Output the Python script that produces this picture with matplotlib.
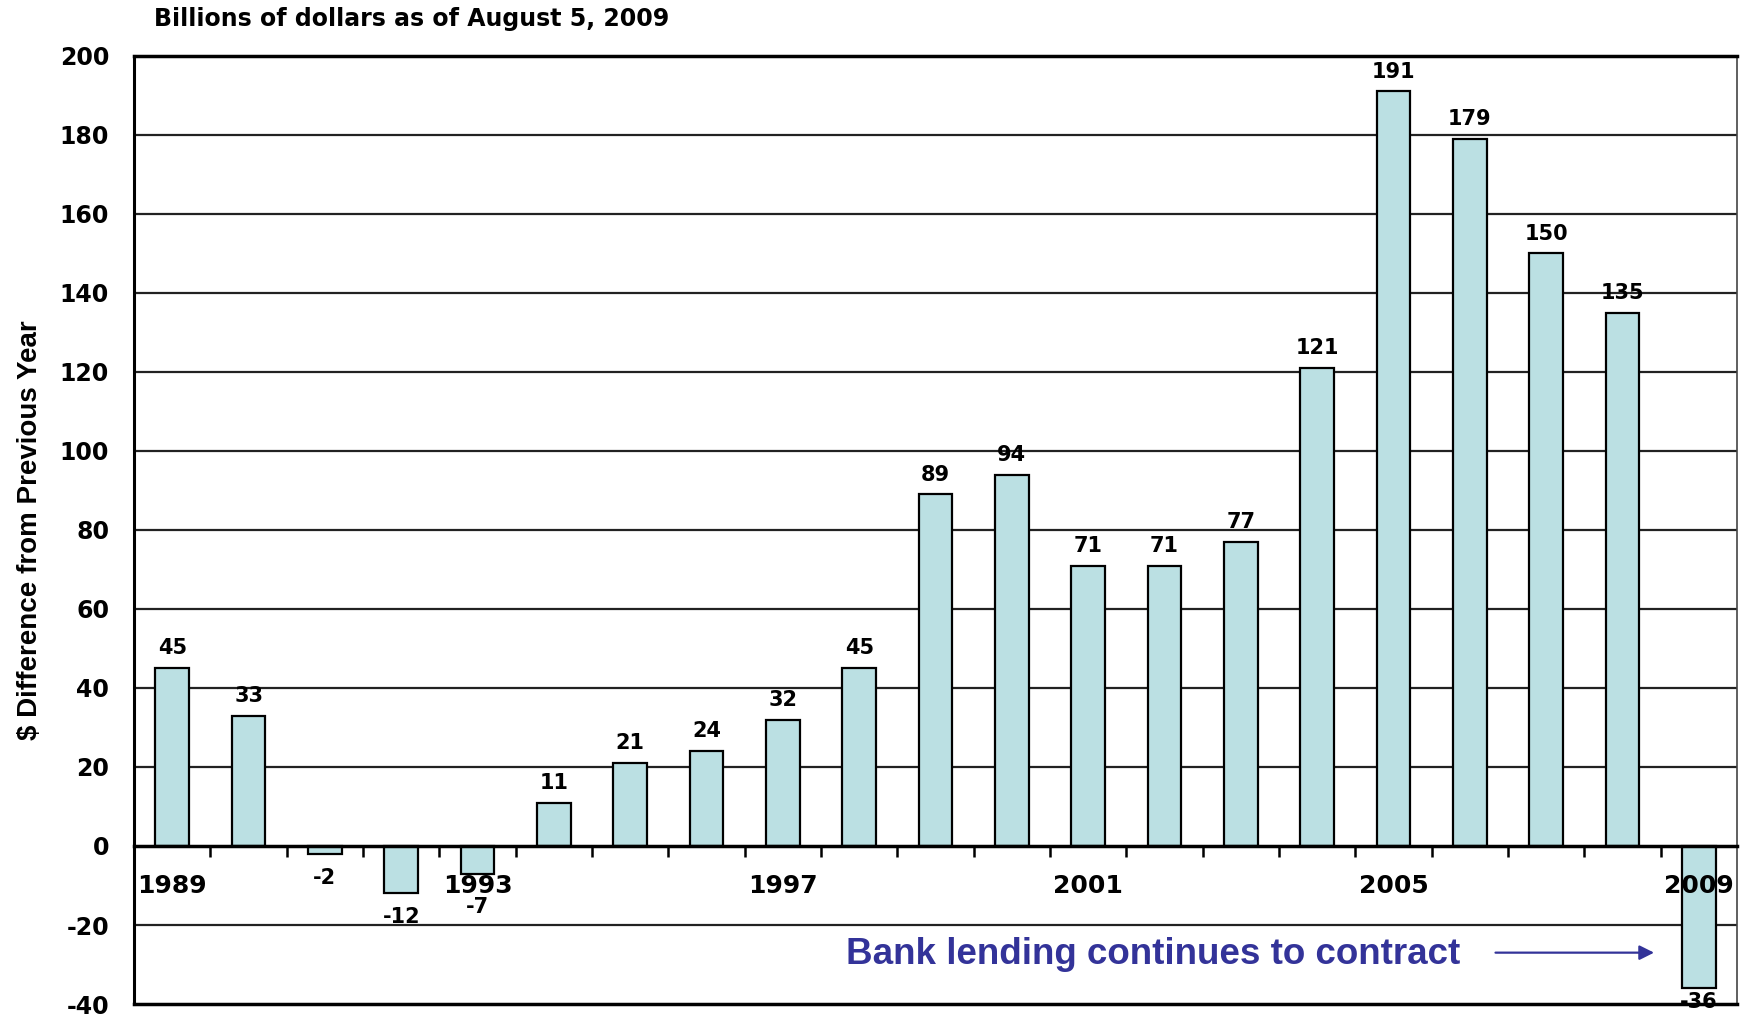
import numpy as np
import matplotlib.pyplot as plt
from matplotlib.ticker import FixedLocator, NullFormatter

# cambio anual del crédito bancario, miles de millones de dólares
years = list(range(1989, 2010))
values = [45, 33, -2, -12, -7, 11, 21, 24, 32, 45, 89, 94, 71, 71, 77, 121, 191, 179, 150, 135, -36]
labeled_years = [1989, 1993, 1997, 2001, 2005, 2009]
yticks = list(range(-40, 201, 20))

bar_color = "#BBE0E3"
note_color = "#333399"

plt.rcParams['font.family'] = ['DejaVu Sans']
plt.rcParams['font.weight'] = 'bold'
plt.rcParams['axes.unicode_minus'] = False

fig = plt.figure(figsize=(17.48, 10.16), dpi=100)
ax = fig.add_axes([0.0767, 0.0118, 0.9170, 0.9332])
ax.set_axisbelow(False)

x = np.arange(len(years))
ax.bar(x, values, width=0.44, color=bar_color, edgecolor="black", linewidth=1.6, zorder=0.8)

# etiquetas de valor encima / debajo de cada barra
for xi, yr, v in zip(x, years, values):
    if v >= 0:
        ax.annotate(str(v), (xi, v), xytext=(0, 7), textcoords="offset points",
                    ha="center", va="bottom", fontsize=15, fontweight="bold", zorder=5)
    else:
        off = -10
        if v <= -30:
            off = -3      # casi toca el borde inferior
        elif yr in labeled_years:
            off = -17     # bajar para no pisar el año
        ax.annotate(str(v), (xi, v), xytext=(0, off), textcoords="offset points",
                    ha="center", va="top", fontsize=15, fontweight="bold", zorder=5,
                    annotation_clip=False)

ax.set_xlim(-0.5, len(years) - 0.5)
ax.set_ylim(-40, 200)
ax.set_yticks(yticks)
ax.tick_params(axis="y", length=0, labelsize=17, pad=18)
for lab in ax.get_yticklabels():
    lab.set_fontweight("bold")

# líneas horizontales cada 20
for yv in yticks:
    if yv in (-40, 0, 200):
        continue
    ax.axhline(yv, color="#222222", linewidth=1.6, zorder=0.5)
ax.axhline(-40, color="black", linewidth=2.5, zorder=4, clip_on=False)

# el eje x va sobre la línea del cero
ax.spines["bottom"].set_position(("data", 0))
ax.spines["bottom"].set_linewidth(2.5)
ax.spines["top"].set_linewidth(2.5)
ax.spines["left"].set_linewidth(2.2)
ax.spines["right"].set_linewidth(1.2)
ax.spines["right"].set_color("#444444")

ax.xaxis.set_major_locator(FixedLocator(np.arange(0.5, len(years) - 1, 1.0)))
ax.xaxis.set_major_formatter(NullFormatter())
ax.tick_params(axis="x", which="major", direction="out", length=8, width=1.8)
label_pos = [years.index(y) for y in labeled_years]
ax.set_xticks(label_pos, minor=True)
ax.set_xticklabels([str(y) for y in labeled_years], minor=True, fontsize=18, fontweight="bold")
ax.tick_params(axis="x", which="minor", length=0, pad=20)

ax.set_ylabel("$ Difference from Previous Year", family="Liberation Sans", fontsize=20,
              fontweight="bold", labelpad=12)

fig.text(0.088, 0.981, "Billions of dollars as of August 5, 2009", fontsize=17,
         fontweight="bold", ha="left", va="center")

ax.text(12.85, -27.5, "Bank lending continues to contract", family="Liberation Sans",
        fontsize=26.5, fontweight="bold", color=note_color, ha="center", va="center", zorder=5)
ax.annotate("", xy=(19.45, -27), xytext=(17.3, -27),
            arrowprops=dict(arrowstyle="-|>", color=note_color, lw=1.6, mutation_scale=22),
            zorder=5)

fig.savefig("out.png", dpi=100)
